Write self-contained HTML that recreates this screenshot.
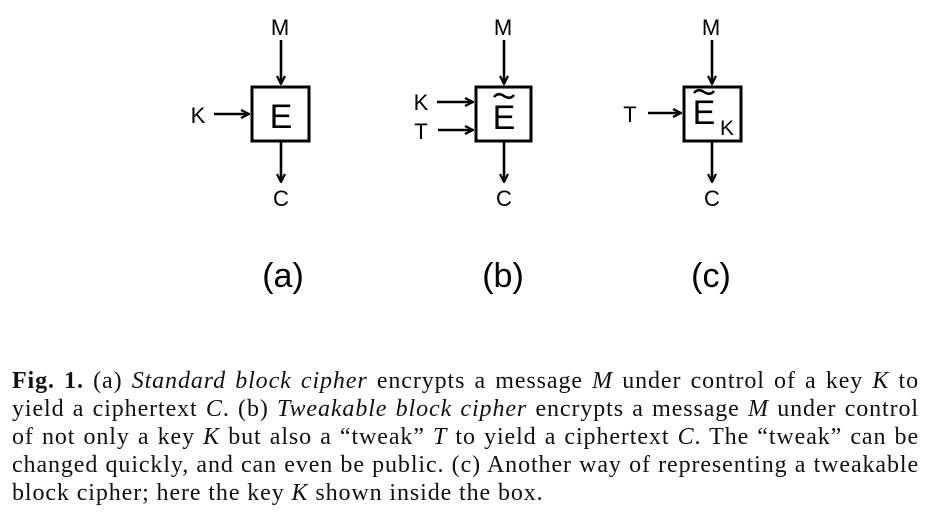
<!DOCTYPE html>
<html><head><style>
body{margin:0;width:932px;height:521px;background:#fff;position:relative;overflow:hidden}
svg{position:absolute;left:0;top:0}
.cap{position:absolute;left:12px;width:907px;font-family:"Liberation Serif",serif;font-size:24px;letter-spacing:0.9px;line-height:28px;color:#111}
.cap div{text-align:justify;text-align-last:justify;white-space:nowrap;height:28px}
.cap div.l{text-align-last:left}
</style></head><body>
<svg width="932" height="360" font-family="Liberation Sans, sans-serif">
<defs><marker id="a" markerWidth="10" markerHeight="10" refX="9" refY="5" orient="auto" markerUnits="userSpaceOnUse"><path d="M1,1 L9,5 L1,9" fill="none" stroke="#000" stroke-width="2.2"/></marker></defs>
<g stroke="#000" stroke-width="3" fill="none">
<rect x="252" y="87" width="57" height="54"/>
<rect x="476" y="87" width="55" height="54"/>
<rect x="684" y="87" width="57" height="54"/>
</g>
<g stroke="#000" stroke-width="2.6" marker-end="url(#a)">
<line x1="281" y1="40" x2="281" y2="84"/><line x1="281" y1="141" x2="281" y2="182"/>
<line x1="214" y1="114" x2="249" y2="114"/>
<line x1="504" y1="40" x2="504" y2="84"/><line x1="504" y1="141" x2="504" y2="182"/>
<line x1="437" y1="102" x2="473" y2="102"/><line x1="438" y1="130" x2="473" y2="130"/>
<line x1="712" y1="40" x2="712" y2="84"/><line x1="712" y1="141" x2="712" y2="182"/>
<line x1="648" y1="113" x2="681" y2="113"/>
</g>
<g font-size="22" text-anchor="middle" fill="#000">
<text x="280" y="35">M</text><text x="281" y="206">C</text><text x="198" y="123">K</text>
<text x="503" y="35">M</text><text x="504" y="206">C</text><text x="421" y="110">K</text><text x="421" y="139">T</text>
<text x="711" y="35">M</text><text x="712" y="206">C</text><text x="630" y="122">T</text>
<text x="281" y="128" font-size="34">E</text>
<text x="504" y="129" font-size="34">E</text><path d="M494,97 q4,-5 10,-1 t10,-1" stroke="#000" stroke-width="2.5" fill="none"/>
<text x="704" y="124" font-size="34">E</text><path d="M694,93 q4,-5 10,-1 t10,-1" stroke="#000" stroke-width="2.5" fill="none"/>
<text x="727" y="135" font-size="21">K</text>
<text x="283" y="287" font-size="34">(a)</text><text x="503" y="287" font-size="34">(b)</text><text x="711" y="287" font-size="34">(c)</text>
</g>
</svg>
<div class="cap" style="top:367px">
<div><b>Fig. 1.</b> (a) <i>Standard block cipher</i> encrypts a message <i>M</i> under control of a key <i>K</i> to</div>
<div>yield a ciphertext <i>C</i>. (b) <i>Tweakable block cipher</i> encrypts a message <i>M</i> under control</div>
<div>of not only a key <i>K</i> but also a “tweak” <i>T</i> to yield a ciphertext <i>C</i>. The “tweak” can be</div>
<div>changed quickly, and can even be public. (c) Another way of representing a tweakable</div>
<div class="l">block cipher; here the key <i>K</i> shown inside the box.</div>
</div>
</body></html>
